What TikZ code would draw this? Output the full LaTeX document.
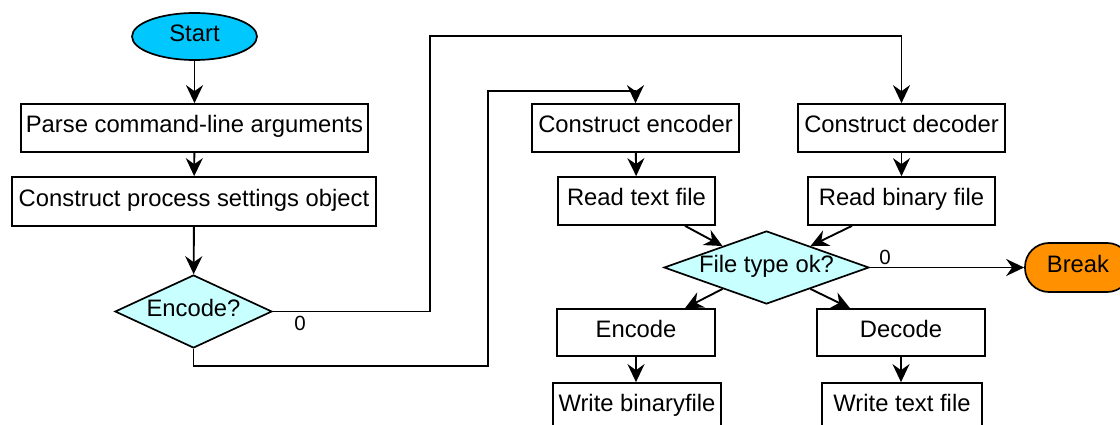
\documentclass[tikz,border=0pt]{standalone}
\usepackage{fontspec}
\setmainfont{Liberation Sans}
\usetikzlibrary{shapes.geometric,arrows.meta}
\definecolor{startc}{RGB}{0,200,255}
\definecolor{decc}{RGB}{200,255,255}
\definecolor{brkc}{RGB}{255,145,0}
\begin{document}
\begin{tikzpicture}[x=1pt,y=-1pt,
  font=\fontsize{23.8}{28}\selectfont,
  every node/.style={text height=17pt, text depth=7pt},
  box/.style={draw, line width=1.7pt, rectangle, inner sep=0pt, align=center},
  decision/.style={draw, line width=1.7pt, diamond, fill=decc, inner sep=0pt},
  arr/.style={-{Stealth[length=18pt,width=17pt,inset=6pt]}, line width=1.9pt},
  lbl/.style={font=\fontsize{20.5}{24}\selectfont, inner sep=0pt, text height=, text depth=}]
\clip (0,0) rectangle (1120,425);
\useasboundingbox (0,0) rectangle (1120,425);

% nodes
\node[draw, line width=1.7pt, ellipse, fill=startc, minimum width=125pt, minimum height=47pt, inner sep=0pt] (start) at (194.5,36.5) {Start};
\node[box, minimum width=347pt, minimum height=48pt] (parse) at (194.5,128) {Parse command-line arguments};
\node[box, minimum width=364pt, minimum height=49pt] (settings) at (194,201.5) {Construct process settings object};
\node[decision, aspect=2.15, minimum width=157pt, minimum height=73pt] (encq) at (193.5,311.5) {Encode?};

\node[box, minimum width=207pt, minimum height=48pt] (cenc) at (635.5,128) {Construct encoder};
\node[box, minimum width=207pt, minimum height=48pt] (cdec) at (901.5,128) {Construct decoder};
\node[box, minimum width=157pt, minimum height=48pt] (rtext) at (636.5,201) {Read text file};
\node[box, minimum width=187pt, minimum height=48pt] (rbin) at (901.5,201) {Read binary file};
\node[decision, aspect=2.8, minimum width=205pt, minimum height=73pt] (ftype) at (766.5,267.5) {File type ok?};
\node[draw, line width=1.7pt, rectangle, rounded corners=24pt, fill=brkc, minimum width=106pt, minimum height=49pt, inner sep=0pt] (brk) at (1078,267.5) {Break};
\node[box, minimum width=158pt, minimum height=47pt] (encode) at (636,332.5) {Encode};
\node[box, minimum width=168pt, minimum height=47pt] (decode) at (901,332.5) {Decode};
\node[box, minimum width=168pt, minimum height=47pt] (wbin) at (637,406.5) {Write binaryfile};
\node[box, minimum width=160pt, minimum height=47pt] (wtext) at (902,406.5) {Write text file};

% helper coordinates for routed connectors
\coordinate (tA) at (430,36);
\coordinate (bA) at (488,366);
\coordinate (bB) at (488,91);

% connectors
\draw[arr] (start) -- (parse);
\draw[arr] (parse) -- (settings);
\draw[arr] (settings) -- (encq);
\draw[arr] (encq.east) -| (tA) -| (cdec.north);
\draw[arr] (encq.south) |- (bA) -- (bB) -| (cenc.north);
\node[lbl] (zero1) at (300,323.5) {0};

\draw[arr] (cenc) -- (rtext);
\draw[arr] (cdec) -- (rbin);
\draw[arr] ([xshift=48.5pt]rtext.south) -- (ftype.154);
\draw[arr] ([xshift=-49.5pt]rbin.south) -- (ftype.26);
\draw[arr] (ftype.206) -- ([xshift=49pt]encode.north);
\draw[arr] (ftype.334) -- ([xshift=-51pt]decode.north);
\draw[arr] (ftype.east) -- (brk.west);
\node[lbl] (zero2) at (885,257.5) {0};
\draw[arr] (encode.south) -- (encode.south |- wbin.north);
\draw[arr] (decode.south) -- (decode.south |- wtext.north);
\end{tikzpicture}
\end{document}
